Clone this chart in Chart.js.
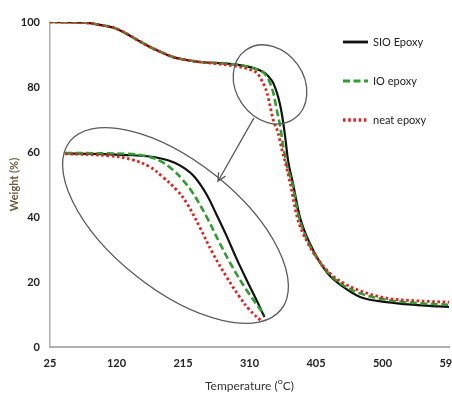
<!DOCTYPE html>
<html>
<head>
<meta charset="utf-8">
<script src="https://cdn.jsdelivr.net/npm/chart.js@4.4.0/dist/chart.umd.min.js"></script>
<style>
  html, body { margin: 0; padding: 0; background: #fff; overflow: hidden; }
  #wrap { position: relative; width: 452px; height: 394px; }
</style>
</head>
<body>
<div id="wrap"><canvas id="tga"></canvas></div>
<script>
"use strict";

// 軸の目盛り
const xTicks = [25, 120, 215, 310, 405, 500, 595];
const yTicks = [0, 20, 40, 60, 80, 100];

// SIO Epoxy (実線)
const sioTemp   = [25, 75, 96, 118, 135, 152, 168, 185, 201, 220, 239, 282, 315, 329, 337, 344, 351, 356, 361, 365, 372, 382, 396, 421, 444, 468, 506, 550, 595];
const sioWeight = [100, 99.8, 99.1, 98.1, 96.3, 94.2, 92.3, 90.6, 89.2, 88.3, 87.7, 87.1, 85.9, 84.7, 83.3, 81.2, 76.9, 72.0, 64.6, 57.5, 50.5, 40.0, 32.0, 22.8, 18.5, 15.4, 13.8, 12.9, 12.3];

// IO epoxy (破線)
const ioTemp   = [25, 75, 96, 118, 135, 152, 168, 185, 201, 220, 239, 282, 315, 335, 344, 349, 354, 358, 364, 371, 380, 394, 421, 444, 468, 506, 550, 595];
const ioWeight = [100, 99.8, 99.1, 98.1, 96.3, 94.2, 92.3, 90.6, 89.2, 88.3, 87.7, 87.1, 85.8, 83.1, 78.2, 72.9, 67.7, 62.0, 55.4, 50.5, 40.5, 32.2, 23.2, 19.0, 16.5, 14.5, 13.5, 13.0];

// neat epoxy (点線)
const neatTemp   = [25, 75, 96, 118, 135, 152, 168, 185, 201, 220, 239, 270, 296, 310, 321, 328, 335, 339, 344, 351, 356, 361, 368, 378, 392, 421, 444, 468, 506, 550, 595];
const neatWeight = [100, 99.8, 99.1, 98.1, 96.3, 94.2, 92.3, 90.6, 89.2, 88.3, 87.7, 87.0, 86.2, 85.4, 84.2, 81.8, 78.2, 74.5, 69.8, 65.8, 60.9, 56.9, 50.5, 40.0, 32.5, 23.5, 19.7, 17.3, 15.0, 14.2, 13.8];

// 拡大図 (楕円の中) のデータ
const zoomSioTemp    = [300, 311.2, 324.8, 333, 339, 344, 348, 352, 356.8, 360.8, 364.8, 368.8, 372.8, 376.8, 380];
const zoomSioWeight  = [87.9, 87.8, 87.5, 87.2, 86.6, 85.6, 84.2, 82.1, 77.8, 72.8, 67.6, 62.0, 56.8, 51.8, 47.6];
const zoomIoTemp     = [300, 324.8, 332, 338, 343, 347.2, 351.2, 356.8, 362, 367.2, 372.8, 380];
const zoomIoWeight   = [88.0, 87.8, 87.3, 86.1, 84.0, 81.4, 78.2, 72.3, 65.9, 59.9, 54.3, 48.1];
const zoomNeatTemp   = [300, 318, 327.2, 334, 339.2, 344.8, 348.8, 354, 359.2, 364.8, 370, 374, 379.2];
const zoomNeatWeight = [87.8, 87.3, 86.3, 84.6, 82.1, 78.9, 75.7, 69.8, 63.4, 57.5, 52.6, 49.4, 46.4];

const seriesNames = ['SIO Epoxy', 'IO epoxy', 'neat epoxy'];

const toXY = (xs, ys) => xs.map((x, i) => ({ x: x, y: ys[i] }));

const styles = [
    { borderColor: '#111111', borderWidth: 2.2, borderDash: [], order: 3 },
    { borderColor: '#2e9e2e', borderWidth: 2.6, borderDash: [7, 3.5], order: 2 },
    { borderColor: '#e0241f', borderWidth: 2.8, borderDash: [2.6, 2.6], order: 1 }
];

const makeSet = (label, xs, ys, st, xId, yId) => ({
    label: label,
    data: toXY(xs, ys),
    borderColor: st.borderColor,
    borderWidth: st.borderWidth,
    borderDash: st.borderDash,
    order: st.order,
    pointRadius: 0,
    fill: false,
    showLine: true,
    // 拡大図はなめらかな曲線にする
    cubicInterpolationMode: xId === 'x' ? 'monotone' : 'default',
    tension: 0.4,
    xAxisID: xId,
    yAxisID: yId
});

// 楕円と矢印
const annotations = {
    id: 'annotations',
    afterDatasetsDraw(chart) {
        const { ctx, scales } = chart;
        const px = (t) => scales.x.getPixelForValue(t);
        const py = (w) => scales.y.getPixelForValue(w);
        ctx.save();
        ctx.strokeStyle = '#5a5a5a';
        ctx.lineWidth = 1.3;
        // 小さい楕円
        ctx.beginPath();
        ctx.ellipse(px(339.3), py(80.8), 42, 34, 55 * Math.PI / 180, 0, Math.PI * 2);
        ctx.stroke();
        // 大きい楕円
        ctx.beginPath();
        ctx.ellipse(px(204.3), py(37.4), 135, 64, 38.5 * Math.PI / 180, 0, Math.PI * 2);
        ctx.stroke();
        // 矢印
        const x1 = px(316.4), y1 = py(70.5), x2 = px(265), y2 = py(51);
        ctx.beginPath();
        ctx.moveTo(x1, y1);
        ctx.lineTo(x2, y2);
        const ang = Math.atan2(y2 - y1, x2 - x1);
        ctx.moveTo(x2 - 9 * Math.cos(ang - 0.45), y2 - 9 * Math.sin(ang - 0.45));
        ctx.lineTo(x2, y2);
        ctx.lineTo(x2 - 9 * Math.cos(ang + 0.45), y2 - 9 * Math.sin(ang + 0.45));
        ctx.stroke();
        ctx.restore();
    }
};

// 凡例 (グラフの中の右上)
const insideLegend = {
    id: 'insideLegend',
    afterDraw(chart) {
        const { ctx } = chart;
        const rows = [42, 81, 120];
        ctx.save();
        seriesNames.forEach((name, i) => {
            const st = styles[i];
            ctx.strokeStyle = st.borderColor;
            ctx.lineWidth = st.borderWidth + 0.6;
            ctx.setLineDash(st.borderDash);
            ctx.beginPath();
            ctx.moveTo(343, rows[i]);
            ctx.lineTo(368, rows[i]);
            ctx.stroke();
            ctx.setLineDash([]);
            ctx.fillStyle = '#222';
            ctx.font = '11px Lato';
            ctx.textBaseline = 'middle';
            ctx.fillText(name, 373, rows[i]);
        });
        ctx.restore();
    }
};

const ctx = document.getElementById('tga').getContext('2d');
const chart = new Chart(ctx, {
    type: 'scatter',
    data: {
        datasets: [
            makeSet(seriesNames[0], sioTemp, sioWeight, styles[0], 'x', 'y'),
            makeSet(seriesNames[1], ioTemp, ioWeight, styles[1], 'x', 'y'),
            makeSet(seriesNames[2], neatTemp, neatWeight, styles[2], 'x', 'y'),
            makeSet(seriesNames[0], zoomSioTemp, zoomSioWeight, styles[0], 'xz', 'yz'),
            makeSet(seriesNames[1], zoomIoTemp, zoomIoWeight, styles[1], 'xz', 'yz'),
            makeSet(seriesNames[2], zoomNeatTemp, zoomNeatWeight, styles[2], 'xz', 'yz')
        ]
    },
    options: {
        responsive: true,
        maintainAspectRatio: false,
        animation: false,
        layout: { padding: { top: 22, right: 3, left: 0, bottom: 0 } },
        plugins: {
            legend: { display: false },
            tooltip: { enabled: false }
        },
        scales: {
            x: {
                type: 'linear',
                min: 25,
                max: 595,
                afterBuildTicks: (scale) => { scale.ticks = xTicks.map(v => ({ value: v })); },
                afterFit: (scale) => { scale.height = 47; scale.paddingRight = 0; },
                grid: { display: false, drawTicks: false },
                border: { display: true, color: '#b0b0b0', width: 2 },
                ticks: { padding: 10, color: '#222', font: { family: 'Lato', size: 11, weight: 'bold' } },
                title: {
                    display: true,
                    text: 'Temperature (ᴼC)',
                    color: '#333',
                    font: { family: 'Lato', size: 12 },
                    padding: { top: 0, bottom: 1 }
                }
            },
            y: {
                type: 'linear',
                min: 0,
                max: 100,
                afterBuildTicks: (scale) => { scale.ticks = yTicks.map(v => ({ value: v })); },
                afterFit: (scale) => { scale.width = 50; },
                grid: { display: false, drawTicks: false },
                border: { display: true, color: '#b0b0b0', width: 1.5 },
                ticks: { padding: 10, color: '#222', font: { family: 'Lato', size: 11, weight: 'bold' } },
                title: {
                    display: true,
                    text: 'Weight (%)',
                    color: '#6b5a3e',
                    font: { family: 'Lato', size: 11, weight: 'bold' },
                    padding: { top: 8, bottom: 0 }
                }
            },
            xz: { type: 'linear', display: false, min: 294, max: 454 },
            yz: { type: 'linear', display: false, min: 40.25, max: 120.25 }
        }
    },
    plugins: [annotations, insideLegend]
});
</script>
</body>
</html>
